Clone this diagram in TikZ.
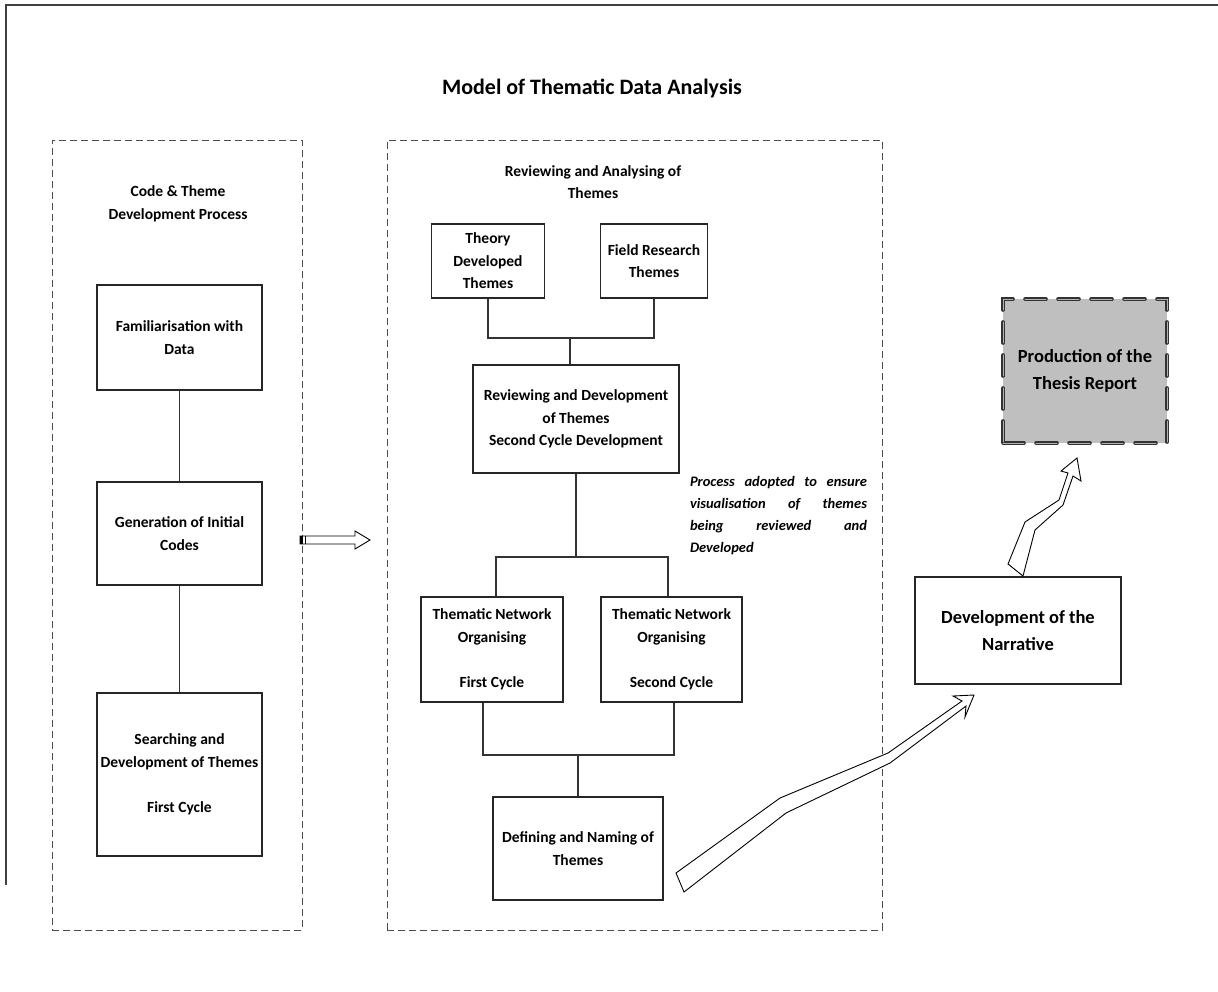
\documentclass[tikz,border=0pt]{standalone}
\usepackage{fontspec}
\setmainfont{Carlito}
\begin{document}
\begin{tikzpicture}[x=1pt,y=-1pt,
  procbox/.style={draw=black!85, line width=1.1pt, fill=white, align=center, inner sep=3pt,
    font=\bfseries\fontsize{15.5}{22.5}\selectfont},
  groupbox/.style={draw=black!70, line width=1pt, dash pattern=on 7pt off 4pt},
  heading/.style={align=center, font=\bfseries\fontsize{15.5}{22.5}\selectfont},
  link/.style={draw=black!80, line width=1.1pt},
  blockarrow/.style={draw=black, line width=0.9pt, fill=white, line join=miter},
  bigbox/.style={draw=black!85, line width=1.1pt, fill=white, align=center,
    font=\bfseries\fontsize{18.5}{27}\selectfont},
]
\useasboundingbox (0,0) rectangle (1218,991);

% frame lines along the top and left side
\draw[black!75, line width=1.3pt] (6,885) -- (6,5) -- (1218,5);

\node[font=\bfseries\fontsize{22}{26}\selectfont] (title) at (592,88) {Model of Thematic Data Analysis};

% ---------- left column ----------
\node[groupbox, minimum width=250pt, minimum height=790pt] (leftgrp) at (177,535) {};
\node[heading] (lefthead) at (178,204) {Code \& Theme\\Development Process};
\node[procbox, minimum width=165pt, minimum height=105pt] (fam) at (179.5,337.5) {Familiarisation with\\Data};
\node[procbox, minimum width=165pt, minimum height=103pt] (gen) at (179.5,533.5) {Generation of Initial\\Codes};
\node[procbox, minimum width=165pt, minimum height=163pt] (sea) at (179.5,774.5) {Searching and\\Development of Themes\\[22.5pt]First Cycle};
\draw[link] (fam) -- (gen);
\draw[link] (gen) -- (sea);

% ---------- middle column ----------
\node[groupbox, minimum width=495pt, minimum height=790pt] (midgrp) at (634.5,535) {};
\node[heading] (midhead) at (593,182) {Reviewing and Analysing of\\Themes};
\node[procbox, minimum width=113pt, minimum height=74pt] (theory) at (488,261) {Theory\\Developed\\Themes};
\node[procbox, minimum width=107pt, minimum height=74pt] (field) at (654,261) {Field Research\\Themes};
\node[procbox, minimum width=206pt, minimum height=108pt] (rev) at (576,419) {Reviewing and Development\\of Themes\\Second Cycle Development};
\node[procbox, minimum width=142pt, minimum height=105pt] (tnA) at (492,649.5) {Thematic Network\\Organising\\[22.5pt]First Cycle};
\node[procbox, minimum width=141pt, minimum height=105pt] (tnB) at (671.5,649.5) {Thematic Network\\Organising\\[22.5pt]Second Cycle};
\node[procbox, minimum width=170pt, minimum height=103pt] (def) at (578,848.5) {Defining and Naming of\\Themes};

\coordinate (jtop) at (570,338);
\draw[link] (theory.south) |- (jtop) -| (field.south);
\draw[link] (jtop) -- (jtop |- rev.north);

\coordinate (jmid) at (576,557);
\coordinate (jmidA) at (496,557);
\coordinate (jmidB) at (668,557);
\draw[link] (rev.south) -- (jmid);
\draw[link] (jmidA |- tnA.north) -- (jmidA) -- (jmidB) -- (jmidB |- tnB.north);

\coordinate (jlowA) at (483,755);
\coordinate (jlowB) at (674,755);
\coordinate (jlow) at (578,755);
\draw[link] (jlowA |- tnA.south) -- (jlowA) -- (jlowB) -- (jlowB |- tnB.south);
\draw[link] (jlow) -- (def.north);

\node[font=\bfseries\itshape\fontsize{14.5}{22.3}\selectfont, align=left, inner sep=0pt] (note) at (778.5,515.5)
  {\makebox[177pt][s]{Process adopted to ensure}\\
   \makebox[177pt][s]{visualisation of themes}\\
   \makebox[177pt][s]{being reviewed and}\\
   Developed};

% ---------- right side ----------
\node[bigbox, minimum width=206pt, minimum height=107pt] (narr) at (1018,630.5) {Development of the\\Narrative};
\node[bigbox, minimum width=164pt, minimum height=144pt, fill=black!25, draw=black!80,
      line width=1.4pt, double=black!30, double distance=0.8pt,
      dash pattern=on 21pt off 12pt, line cap=round] (report) at (1085,371) {Production of the\\Thesis Report};

% block arrow between the two columns
\draw[blockarrow] (300,536) -- (355,536) -- (355,531) -- (370,540) -- (355,549) -- (355,544) -- (300,544) -- cycle;
\fill[black] (300,536) rectangle (303,544);
\fill[black] (304.5,536) rectangle (305.5,544);

% bent block arrow from the defining step to the narrative
\draw[blockarrow] (676,873) -- (780,798) -- (888,753) -- (962,701) -- (953,696) -- (974,695)
  -- (965,717) -- (966,706) -- (890,763) -- (786,813) -- (684,892) -- cycle;

% bent block arrow from the narrative to the report
\draw[blockarrow] (1008,564) -- (1025,522) -- (1059,500) -- (1068,473) -- (1061,471) -- (1077,458)
  -- (1081,481) -- (1073,476) -- (1063,505) -- (1035,530) -- (1023,576) -- cycle;

\end{tikzpicture}
\end{document}
